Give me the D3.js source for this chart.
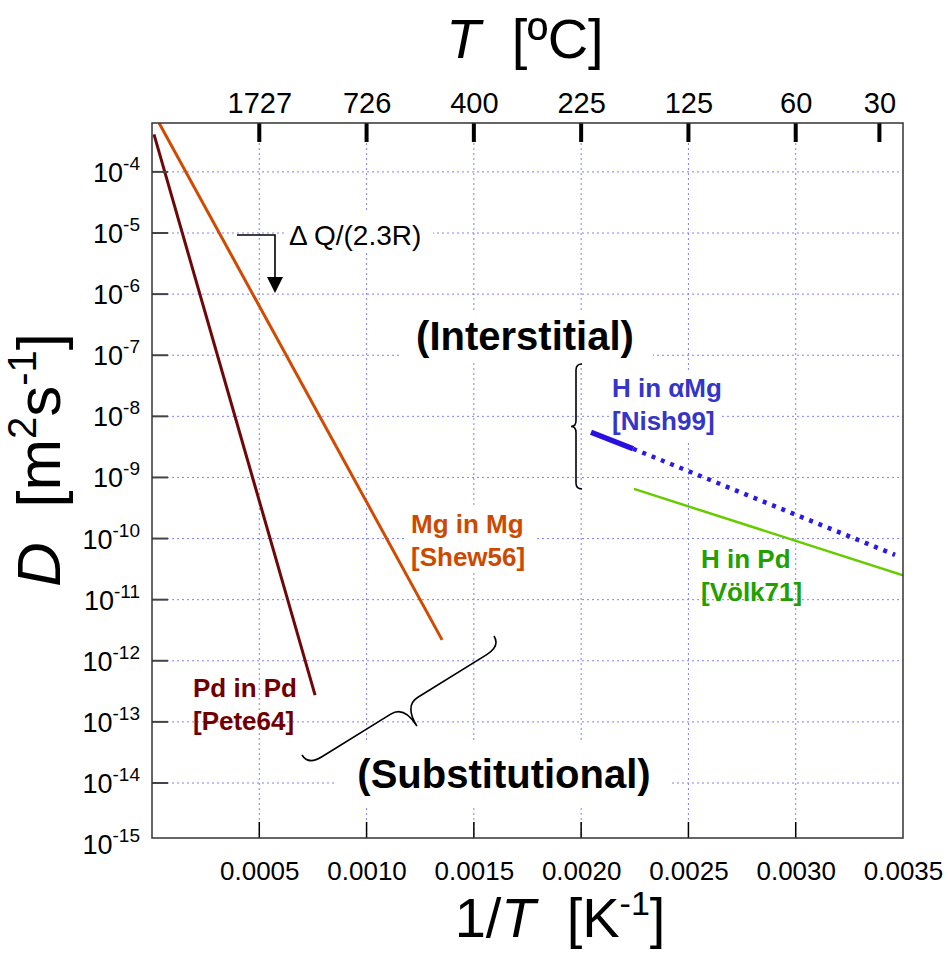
<!DOCTYPE html>
<html><head><meta charset="utf-8">
<script src="https://cdn.jsdelivr.net/npm/d3@7"></script>
<style>
body{margin:0;background:#fff;}
text{font-family:"Liberation Sans",Arial,sans-serif;white-space:pre;}
</style>
</head><body>
<svg id="c" width="948" height="953"></svg>
<script>
// ---- data ----
const xTickValues = [0.0005, 0.0010, 0.0015, 0.0020, 0.0025, 0.0030, 0.0035];
const xTickLabels = ["0.0005", "0.0010", "0.0015", "0.0020", "0.0025", "0.0030", "0.0035"];
const gridX = [0.0005, 0.0010, 0.0015, 0.0020, 0.0025, 0.0030];
const topTickValues = [0.0005, 0.0010, 0.0015, 0.0020, 0.0025, 0.0030, 0.00339];
const topTickLabels = ["1727", "726", "400", "225", "125", "60", "30"];
const yExponents = [-4, -5, -6, -7, -8, -9, -10, -11, -12, -13, -14];
const yLabelExponents = [-4, -5, -6, -7, -8, -9, -10, -11, -12, -13, -14, -15];
// series: [1/T (K^-1), D (m^2/s)]
const pdInPd = [[0.0000093, 4.1e-4], [0.00076, 2.75e-13]];
const mgInMg = [[0.0000330, 6.3e-4], [0.001352, 2.2e-12]];
const hInMgSolid = [[0.002046, 5.5e-9], [0.002242, 2.95e-9]];
const hInMgDotted = [[0.002242, 2.95e-9], [0.003463, 5.4e-11]];
const hInPd = [[0.002246, 6.5e-10], [0.0035, 2.5e-11]];

// ---- layout ----
const L = 152, R = 903, T = 123, B = 838;
const svg = d3.select("#c");
const x = d3.scaleLinear().domain([0, 0.0035]).range([L, R]);
const y = d3.scaleLog().domain([Math.pow(10, -14.9), Math.pow(10, -3.2)]).range([B, T]);

svg.append("defs").append("clipPath").attr("id", "clip")
  .append("rect").attr("x", L).attr("y", T).attr("width", R - L).attr("height", B - T);

// grid
const grid = svg.append("g").attr("stroke", "#8080ff").attr("stroke-width", 1).attr("stroke-dasharray", "2,3");
grid.selectAll("line.v").data(gridX).join("line")
  .attr("x1", d => x(d)).attr("x2", d => x(d)).attr("y1", T).attr("y2", B);
grid.selectAll("line.h").data(yExponents).join("line")
  .attr("x1", L).attr("x2", R).attr("y1", d => y(Math.pow(10, d))).attr("y2", d => y(Math.pow(10, d)));

// white boxes behind annotations
const boxes = [[287, 210, 146, 40], [400, 310, 253, 53], [335, 740, 335, 65], [610, 372, 110, 68], [405, 508, 130, 64]];
svg.selectAll("rect.bg").data(boxes).join("rect").attr("fill", "#fff")
  .attr("x", d => d[0]).attr("y", d => d[1]).attr("width", d => d[2]).attr("height", d => d[3]);

// series lines
const line = d3.line().x(d => x(d[0])).y(d => y(d[1]));
const plot = svg.append("g").attr("clip-path", "url(#clip)").attr("fill", "none");
plot.append("path").datum(pdInPd).attr("d", line).attr("stroke", "#6e0808").attr("stroke-width", 3);
plot.append("path").datum(mgInMg).attr("d", line).attr("stroke", "#d04a00").attr("stroke-width", 3);
plot.append("path").datum(hInPd).attr("d", line).attr("stroke", "#66cc00").attr("stroke-width", 2.5);
plot.append("path").datum(hInMgDotted).attr("d", line).attr("stroke", "#2a1ae6").attr("stroke-width", 4.5).attr("stroke-dasharray", "4,6");
plot.append("path").datum(hInMgSolid).attr("d", line).attr("stroke", "#2a10e0").attr("stroke-width", 5.5);

// axes
const bottomAxis = d3.axisBottom(x).tickValues(xTickValues).tickFormat((d, i) => xTickLabels[i]).tickSize(0).tickPadding(0);
const gb = svg.append("g").attr("transform", `translate(0,${B})`).call(bottomAxis);
gb.select(".domain").remove();
gb.selectAll("text").attr("font-size", 26).attr("fill", "#000").attr("dy", null).attr("y", 42)
  .style("font-family", "'Liberation Sans',Arial,sans-serif");
svg.selectAll("line.bt").data(xTickValues.slice(0, 6)).join("line")
  .attr("x1", d => x(d)).attr("x2", d => x(d)).attr("y1", B).attr("y2", B - 16)
  .attr("stroke", "#000").attr("stroke-width", 1.5);

const topAxis = d3.axisTop(x).tickValues(topTickValues).tickFormat((d, i) => topTickLabels[i]).tickSize(0).tickPadding(0);
const gt = svg.append("g").attr("transform", `translate(0,${T})`).call(topAxis);
gt.select(".domain").remove();
gt.selectAll("text").attr("font-size", 29).attr("fill", "#000").attr("y", -10)
  .style("font-family", "'Liberation Sans',Arial,sans-serif");
svg.selectAll("line.tt").data(topTickValues).join("line")
  .attr("x1", d => x(d)).attr("x2", d => x(d)).attr("y1", T).attr("y2", T + 19)
  .attr("stroke", "#000").attr("stroke-width", 4);

// left ticks and labels
svg.selectAll("line.lt").data(yExponents).join("line")
  .attr("x1", L).attr("x2", L + 16).attr("y1", d => y(Math.pow(10, d))).attr("y2", d => y(Math.pow(10, d)))
  .attr("stroke", "#444").attr("stroke-width", 2);
const yl = svg.selectAll("text.yl").data(yLabelExponents).join("text")
  .attr("x", 140).attr("y", d => y(Math.pow(10, d)) + 10).attr("text-anchor", "end")
  .style("font-size", "27px");
yl.append("tspan").text("10");
yl.append("tspan").style("font-size", "19px").attr("dy", -12).text(d => "-" + Math.abs(d));

// border
svg.append("rect").attr("x", L).attr("y", T).attr("width", R - L).attr("height", B - T)
  .attr("fill", "none").attr("stroke", "#333").attr("stroke-width", 1.5);

// axis titles
const tt = svg.append("text").attr("x", 525).attr("y", 58).attr("text-anchor", "middle").attr("font-size", 56);
tt.append("tspan").attr("font-style", "italic").text("T");
tt.append("tspan").text("\u00a0 [ºC]");

const bt = svg.append("text").attr("x", 560).attr("y", 937).attr("text-anchor", "middle").attr("font-size", 56);
bt.append("tspan").text("1/");
bt.append("tspan").attr("font-style", "italic").text("T");
bt.append("tspan").text("\u00a0 [K");
bt.append("tspan").attr("font-size", 34).attr("dy", -22).text("-1");
bt.append("tspan").attr("dy", 22).text("]");

const lt = svg.append("text").attr("transform", "translate(60,460) rotate(-90)").attr("text-anchor", "middle").attr("font-size", 62);
lt.append("tspan").attr("font-style", "italic").text("D");
lt.append("tspan").text("\u00a0 [m");
lt.append("tspan").attr("font-size", 40).attr("dy", -24).text("2");
lt.append("tspan").attr("dy", 24).text("s");
lt.append("tspan").attr("font-size", 40).attr("dy", -24).text("-1");
lt.append("tspan").attr("dy", 24).text("]");

// series labels
const labels = [
  {t: ["Mg in Mg", "[Shew56]"], x: 411, y: 533, c: "#cc4a00"},
  {t: ["Pd in Pd", "[Pete64]"], x: 193, y: 697, c: "#700000"},
  {t: ["H in αMg", "[Nish99]"], x: 612, y: 397, c: "#3535c8"},
  {t: ["H in Pd", "[Völk71]"], x: 701, y: 568, c: "#22a000"}
];
labels.forEach(l => {
  l.t.forEach((s, i) => svg.append("text").attr("x", l.x).attr("y", l.y + i * 33)
    .attr("font-size", 26).attr("font-weight", "bold").attr("fill", l.c).text(s));
});

svg.append("text").attr("x", 525).attr("y", 350).attr("text-anchor", "middle")
  .attr("font-size", 40).attr("font-weight", "bold").text("(Interstitial)");
svg.append("text").attr("x", 504).attr("y", 788).attr("text-anchor", "middle")
  .attr("font-size", 40).attr("font-weight", "bold").text("(Substitutional)");

// ΔQ annotation
svg.append("text").attr("x", 289).attr("y", 245).attr("font-size", 28).text("Δ Q/(2.3R)");
svg.append("path").attr("d", "M237,235 H275 V278").attr("fill", "none").attr("stroke", "#000").attr("stroke-width", 1.6);
svg.append("path").attr("d", "M267,277 L283,277 L275,293 Z").attr("fill", "#000");

// braces
function brace(ax, ay, bx, by, q, h, r) {
  const len = Math.hypot(bx - ax, by - ay);
  const ang = Math.atan2(by - ay, bx - ax) * 180 / Math.PI;
  const m = len / 2;
  const d = `M0,0 Q0,${q} ${r},${q} L${m - r},${q} Q${m},${q} ${m},${h} Q${m},${q} ${m + r},${q} L${len - r},${q} Q${len},${q} ${len},0`;
  svg.append("path").attr("d", d).attr("transform", `translate(${ax},${ay}) rotate(${ang})`)
    .attr("fill", "none").attr("stroke", "#000").attr("stroke-width", 1.6);
}
brace(582, 364, 582, 489, 6, 11, 6);
brace(302, 755, 494, 636, 12, 36, 16);
</script>
</body></html>
